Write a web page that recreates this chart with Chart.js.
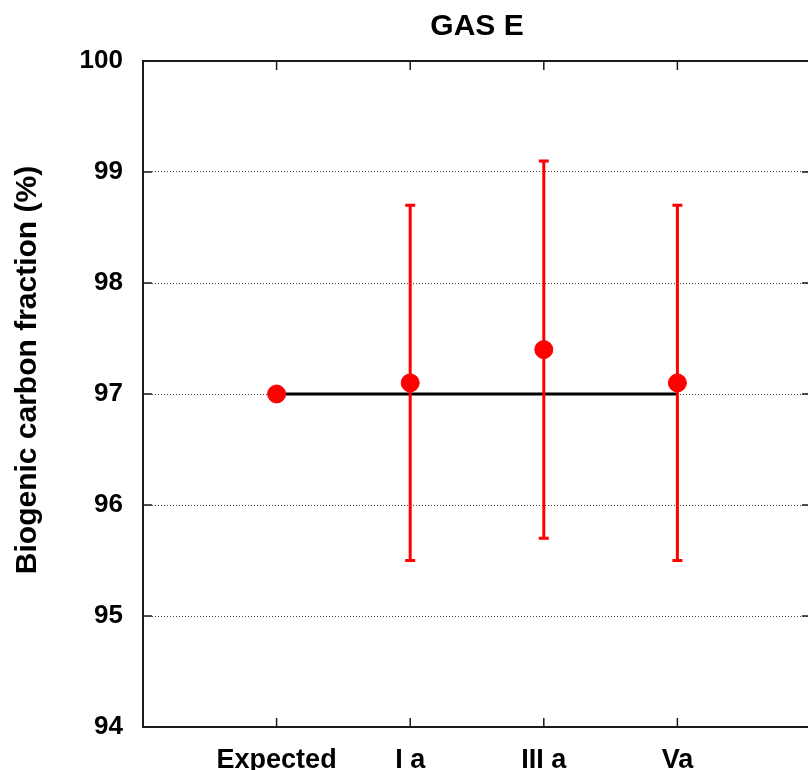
<!DOCTYPE html>
<html>
<head>
<meta charset="utf-8">
<script src="https://cdn.jsdelivr.net/npm/chart.js@4"></script>
<style>
    html, body { margin: 0; padding: 0; background: #fff; overflow: hidden; }
    canvas { display: block; }
</style>
</head>
<body>
<canvas id="gasChart" width="812" height="770"></canvas>
<script>
// Data
const categories = ['Expected', 'I a', 'III a', 'Va'];
const values = [97.0, 97.1, 97.4, 97.1];
const errLow = [null, 95.5, 95.7, 95.5];
const errHigh = [null, 98.7, 99.1, 98.7];
const expectedValue = 97.0;
const yTicks = [94, 95, 96, 97, 98, 99, 100];
const yTitle = 'Biogenic carbon fraction (%)';

const FONT = "'Liberation Sans', Arial, sans-serif";

// Points sit at 1..n on a linear x axis running from 0 to n+1
const points = values.map((v, i) => ({ x: i + 1, y: v }));
const refLine = [{ x: 1, y: expectedValue }, { x: categories.length, y: expectedValue }];

// Frame + inward ticks, gnuplot style
const framePlugin = {
    id: 'frame',
    beforeDatasetsDraw(chart) {
        const { ctx, chartArea: a, scales } = chart;
        ctx.save();
        ctx.strokeStyle = '#1a1a1a';
        ctx.lineWidth = 1.5;
        // y ticks on left and right
        yTicks.forEach(v => {
            const y = scales.y.getPixelForValue(v);
            ctx.beginPath();
            ctx.moveTo(a.left, y); ctx.lineTo(a.left + 9, y);
            ctx.moveTo(a.right - 9, y); ctx.lineTo(a.right, y);
            ctx.stroke();
        });
        // x ticks at the categories, bottom and top
        categories.forEach((c, i) => {
            const x = scales.x.getPixelForValue(i + 1);
            ctx.beginPath();
            ctx.moveTo(x, a.bottom); ctx.lineTo(x, a.bottom - 9);
            ctx.moveTo(x, a.top); ctx.lineTo(x, a.top + 9);
            ctx.stroke();
        });
        ctx.lineWidth = 2;
        ctx.strokeRect(a.left, a.top, a.right - a.left, a.bottom - a.top);
        ctx.restore();
    },
    // y axis title, sitting a bit above the middle like the original
    afterDraw(chart) {
        const { ctx, chartArea: a } = chart;
        ctx.save();
        ctx.translate(28, (a.top + a.bottom) / 2 - 24);
        ctx.rotate(-Math.PI / 2);
        ctx.font = 'bold 30px ' + FONT;
        ctx.fillStyle = '#000';
        ctx.textAlign = 'center';
        ctx.textBaseline = 'middle';
        ctx.fillText(yTitle, 0, 0);
        ctx.restore();
    }
};

// Vertical error bars drawn just under the red points
const errorBarPlugin = {
    id: 'errorBars',
    beforeDatasetDraw(chart, args) {
        if (args.index !== 1) return;
        const { ctx, scales } = chart;
        ctx.save();
        ctx.strokeStyle = '#ff0000';
        ctx.lineWidth = 3;
        values.forEach((v, i) => {
            if (errLow[i] == null) return;
            const x = scales.x.getPixelForValue(i + 1);
            const yl = scales.y.getPixelForValue(errLow[i]);
            const yh = scales.y.getPixelForValue(errHigh[i]);
            ctx.beginPath();
            ctx.moveTo(x, yl); ctx.lineTo(x, yh);
            ctx.moveTo(x - 5, yl); ctx.lineTo(x + 5, yl);
            ctx.moveTo(x - 5, yh); ctx.lineTo(x + 5, yh);
            ctx.stroke();
        });
        ctx.restore();
    }
};

const ctx = document.getElementById('gasChart').getContext('2d');
new Chart(ctx, {
    type: 'scatter',
    data: {
        datasets: [
            {
                type: 'line',
                label: 'Expected',
                data: refLine,
                borderColor: '#000000',
                borderWidth: 3,
                pointRadius: 0,
                fill: false,
                order: 2
            },
            {
                label: 'GAS E',
                data: points,
                backgroundColor: '#ff0000',
                borderColor: '#ff0000',
                pointRadius: 9,
                pointHoverRadius: 9,
                order: 1
            }
        ]
    },
    options: {
        responsive: false,
        animation: false,
        layout: { autoPadding: false, padding: { left: 0, right: 1, top: 0, bottom: 0 } },
        plugins: {
            legend: { display: false },
            tooltip: { enabled: false },
            title: {
                display: true,
                fullSize: false,
                text: 'GAS E',
                color: '#000',
                font: { family: FONT, size: 30, weight: 'bold' },
                padding: { top: 9, bottom: 16 }
            }
        },
        scales: {
            x: {
                type: 'linear',
                min: 0,
                max: categories.length + 1,
                afterFit: s => { s.height = 43; },
                afterBuildTicks: s => { s.ticks = categories.map((c, i) => ({ value: i + 1 })); },
                ticks: {
                    autoSkip: false,
                    maxRotation: 0,
                    padding: 17,
                    color: '#000',
                    font: { family: FONT, size: 27, weight: 'bold' },
                    callback: v => categories[v - 1] || ''
                },
                grid: { display: false, drawTicks: false },
                border: { display: false }
            },
            y: {
                min: 94,
                max: 100,
                afterFit: s => { s.width = 143; },
                afterBuildTicks: s => { s.ticks = yTicks.map(v => ({ value: v })); },
                ticks: {
                    padding: 20,
                    color: '#000',
                    font: { family: FONT, size: 26, weight: 'bold' }
                },
                grid: {
                    color: '#444',
                    lineWidth: 1,
                    drawTicks: false
                },
                border: { display: false, dash: [1, 2] }
            }
        }
    },
    plugins: [framePlugin, errorBarPlugin]
});
</script>
</body>
</html>
